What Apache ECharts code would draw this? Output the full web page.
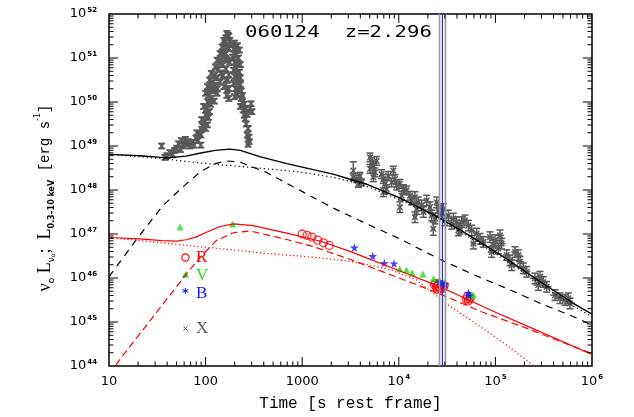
<!DOCTYPE html>
<html><head><meta charset="utf-8">
<script src="https://cdn.jsdelivr.net/npm/echarts@6/dist/echarts.min.js"></script>
<style>html,body{margin:0;padding:0;background:#fff}#c{width:634px;height:417px}</style>
</head><body><div id="c"></div>
<script>
// ---- data (log10 values) ----
const xrayPrompt = [ // [log10 t, log10 L]
[1.545,49.00],[1.58,48.74],[1.60,48.78],[1.63,48.85],[1.66,48.80],[1.68,48.90],[1.70,48.95],[1.72,49.05],[1.74,48.92],[1.75,49.12],[1.77,49.00],[1.79,49.15],[1.80,49.05],[1.82,49.10],[1.84,49.00],[1.86,49.08],[1.88,49.02],[1.90,49.18],[1.92,49.12],[1.94,49.28],[1.95,49.02],[1.96,49.38],
[1.91,49.30],[1.95,49.25],[1.96,49.60],[1.99,49.55],[2.02,49.48],[1.98,49.90],[2.01,49.85],[2.04,49.78],[2.00,50.20],[2.03,50.15],[2.06,50.08],[2.09,50.02],[2.04,50.50],[2.07,50.44],[2.10,50.38],[2.12,50.30],[2.10,50.80],[2.13,50.74],[2.16,50.66],[2.15,51.10],[2.18,51.04],[2.21,50.98],[2.19,51.40],[2.21,51.46],[2.23,51.52],[2.25,51.40],[2.22,51.56],[2.24,51.50],
[1.97,49.45],[2.00,49.40],[2.00,49.70],[2.03,49.65],[2.02,50.00],[2.05,49.95],[2.02,50.35],[2.05,50.30],[2.08,50.25],[2.06,50.65],[2.09,50.60],[2.12,50.55],[2.12,50.95],[2.15,50.90],[2.18,50.85],[2.17,51.25],[2.20,51.35],[2.19,51.10],[2.21,51.10],
[2.20,51.20],[2.22,51.25],[2.24,51.22],[2.23,50.95],[2.25,50.90],[2.24,50.62],[2.23,50.50],[2.24,50.30],[2.24,50.08],[2.18,50.60],[2.21,50.50],[2.15,50.45],[2.12,50.20],[2.08,50.30],[2.23,50.30],[2.21,50.75],[2.19,50.35],[2.22,50.15],
[2.27,51.30],[2.30,51.34],[2.33,51.28],[2.35,51.18],[2.28,51.02],[2.31,51.06],[2.34,51.00],[2.29,50.72],[2.32,50.76],[2.35,50.68],[2.29,50.42],[2.32,50.46],[2.36,50.40],[2.30,50.12],[2.33,50.16],[2.37,50.08],[2.36,49.90],[2.39,49.82],[2.41,49.62],[2.43,49.72],[2.44,49.40],[2.45,49.20],[2.44,49.04],[2.46,49.86],[2.47,49.96],[2.48,49.78],[2.38,50.00],[2.40,49.95],
[2.29,51.20],[2.32,51.18],[2.30,50.90],[2.33,50.88],[2.36,50.85],[2.30,50.58],[2.33,50.60],[2.36,50.55],[2.31,50.30],[2.34,50.28],[2.37,50.25],[2.38,50.15],[2.40,49.70],[2.42,49.85],[2.42,49.50],[2.43,49.25],[2.45,49.10]
];
const xrayAfter = [ // [log10 t, log10 L, dlogL, dlogt]
[3.529,48.44,0.20,0],[3.529,48.29,0.08,0.02],[3.564,48.25,0.08,0.02],[3.598,48.32,0.08,0.02],[3.615,48.17,0.08,0.02],[3.581,48.14,0.08,0.02],
[3.702,48.74,0.10,0.01],[3.719,48.63,0.10,0.01],[3.736,48.55,0.10,0.01],[3.702,48.48,0.10,0.01],[3.753,48.40,0.10,0.01],[3.736,48.29,0.10,0.01],[3.771,48.66,0.10,0.01],
[3.822,48.36,0.10,0.01],[3.84,48.25,0.10,0.01],[3.857,48.14,0.10,0.01],[3.874,48.02,0.10,0.01],[3.84,47.95,0.10,0.01],[3.891,48.32,0.10,0.01],
[3.943,48.44,0.10,0.01],[3.96,48.25,0.10,0.01],[3.978,48.10,0.10,0.01],[3.926,48.17,0.10,0.01],
[4.012,48.14,0.10,0.01],[4.047,48.02,0.10,0.01],[4.029,47.87,0.10,0.01],[4.081,47.99,0.10,0.01],[4.012,47.61,0.12,0.01],[4.116,47.87,0.10,0.01],[4.133,47.76,0.10,0.01],
[4.167,47.84,0.12,0.02],[4.202,47.72,0.12,0.02],[4.185,47.57,0.12,0.02],[4.236,47.65,0.12,0.02],[4.254,47.50,0.12,0.02],[4.288,47.76,0.12,0.02],[4.167,47.38,0.12,0.02],
[4.323,47.61,0.12,0.02],[4.34,47.42,0.12,0.02],[4.357,47.12,0.15,0.02],[4.375,47.35,0.12,0.02],[4.392,47.72,0.12,0.02],[4.409,47.53,0.12,0.02],
[4.444,47.46,0.12,0.02],[4.478,47.31,0.12,0.02],[4.513,47.42,0.12,0.02],[4.547,47.23,0.12,0.02],[4.599,47.27,0.12,0.02],[4.616,47.08,0.12,0.02],
[4.461,47.57,0.12,0.02],[4.565,47.35,0.12,0.03],[4.651,47.27,0.12,0.03],[4.685,47.31,0.12,0.03],[4.72,47.19,0.12,0.03],[4.633,47.12,0.12,0.03],[4.754,47.08,0.12,0.03],[4.806,47.01,0.12,0.03],[4.841,46.89,0.12,0.03],[4.772,46.78,0.12,0.03],[4.875,46.82,0.12,0.03],
[4.944,46.93,0.12,0.04],[4.996,46.86,0.12,0.04],[5.048,46.97,0.12,0.04],[4.979,46.74,0.12,0.04],[5.03,46.67,0.12,0.04],[4.961,46.59,0.12,0.04],[5.065,46.78,0.12,0.04],
[5.117,46.52,0.12,0.04],[5.151,46.40,0.12,0.04],[5.203,46.59,0.12,0.04],[5.237,46.52,0.12,0.04],[5.255,46.37,0.12,0.04],[5.168,46.29,0.12,0.04],[5.289,46.22,0.12,0.04],[5.324,46.14,0.12,0.04],
[5.41,45.99,0.12,0.05],[5.462,46.03,0.12,0.05],[5.496,45.91,0.12,0.05],[5.531,45.80,0.12,0.05],[5.444,45.84,0.12,0.05],
[5.617,45.61,0.12,0.05],[5.669,45.54,0.12,0.05],[5.72,45.50,0.12,0.05],[5.772,45.42,0.12,0.05],[5.755,45.54,0.12,0.05]
];
const optR = [[3.0,47.0],[3.05,46.97],[3.10,46.93],[3.16,46.86],[3.22,46.8],[3.28,46.74],[4.38,45.88],[4.40,45.82],[4.42,45.78],[4.44,45.84],[4.46,45.80],[4.41,45.86],[4.43,45.75],[4.39,45.80],[4.45,45.76],[4.47,45.83],[4.40,45.74],[4.37,45.84],[4.70,45.52],[4.72,45.48],[4.74,45.55],[4.71,45.58],[4.73,45.52]];
const optV = [[1.735,47.16],[2.28,47.23],[4.01,46.21],[4.08,46.18],[4.14,46.12],[4.25,46.09],[4.36,45.99],[4.42,45.95],[4.47,45.9],[4.74,45.6],[4.77,45.62]];
const optB = [[3.54,46.69],[3.73,46.5],[3.85,46.34],[3.95,46.33],[4.42,45.92],[4.45,45.88],[4.48,45.86],[4.72,45.66],[4.73,45.6]];

const blackSolid = [[1.0,48.81],[1.32,48.78],[1.6,48.73],[1.8,48.77],[1.95,48.84],[2.1,48.90],[2.25,48.93],[2.36,48.90],[2.56,48.76],[2.84,48.60],[3.0,48.52],[3.32,48.36],[3.67,48.13],[4.01,47.82],[4.36,47.44],[4.63,47.10],[4.77,46.91],[5.12,46.43],[5.46,45.92],[5.81,45.42],[6.0,45.18]];
const blackDotted = [[1.0,48.81],[1.3,48.76],[1.6,48.70],[1.8,48.65],[2.01,48.60],[2.22,48.56],[2.49,48.51],[2.84,48.44],[3.0,48.40],[3.32,48.29],[3.6,48.14],[4.0,47.79],[4.36,47.41],[4.63,47.06],[4.77,46.87],[5.12,46.39],[5.46,45.87],[5.81,45.36],[6.0,45.12]];
const blackDashed = [[1.0,46.03],[1.3,46.92],[1.56,47.65],[1.8,48.14],[1.95,48.42],[2.1,48.60],[2.22,48.66],[2.36,48.63],[2.63,48.40],[2.91,48.07],[3.32,47.59],[3.67,47.23],[4.01,46.89],[4.43,46.42],[4.77,46.08],[5.12,45.76],[5.46,45.43],[5.81,45.12],[6.0,44.93]];
const redSolid = [[1.0,46.92],[1.32,46.89],[1.55,46.85],[1.70,46.84],[1.80,46.87],[1.90,46.93],[2.01,47.04],[2.15,47.17],[2.29,47.23],[2.49,47.19],[2.84,47.02],[3.2,46.83],[3.5,46.60],[4.0,46.17],[4.45,45.78],[5.0,45.22],[5.39,44.85],[6.0,44.26]];
const redDashed = [[1.0,43.83],[1.06,44.0],[1.79,46.06],[1.94,46.46],[2.11,46.85],[2.29,47.03],[2.46,47.07],[2.85,46.87],[3.12,46.71],[3.5,46.42],[4.16,45.87],[4.53,45.54],[4.85,45.24],[5.32,44.86],[5.54,44.67],[6.0,44.28]];
const redDotted = [[1.0,46.92],[1.32,46.85],[2.0,46.70],[2.63,46.56],[3.18,46.46],[3.56,46.36],[3.91,46.19],[4.18,45.96],[4.49,45.42],[4.84,44.90],[5.1,44.50],[5.4,44.0],[5.6,43.65]];
const bandT = [26400, 28300, 30400];

// ---- helpers ----
const P = a => [Math.pow(10, a[0]), Math.pow(10, a[1])];
const lin = arr => arr.map(P);
const errData = [];
xrayPrompt.forEach(p => errData.push([p[0], p[1], 0.06, 0]));
xrayAfter.forEach(p => errData.push(p));
const errVals = errData.map(p => [Math.pow(10,p[0]), Math.pow(10,p[1]), Math.pow(10,p[1]-p[2]), Math.pow(10,p[1]+p[2]), Math.pow(10,p[0]-p[3]), Math.pow(10,p[0]+p[3])]);

const GRAY = '#585858', RED = '#ff0000', GREEN = '#1fe01f', BLUE = '#1515ff';
const STAR = 'path://M50,0 L61,35 L98,35 L68,57 L79,91 L50,70 L21,91 L32,57 L2,35 L39,35 Z';

function supLabel(v, plainBelow) {
  const e = Math.round(Math.log10(v));
  if (e <= plainBelow) return '{b|' + String(Math.pow(10, e)) + '}';
  return '{b|10}{s|' + e + '}';
}
const richLab = {
  b: {fontFamily: 'DejaVu Sans', fontSize: 13, color: '#000', lineHeight: 15},
  s: {fontFamily: 'DejaVu Sans', fontSize: 7, fontWeight: 'bold', color: '#000', verticalAlign: 'top', lineHeight: 7, padding: [0,0,0,1]}
};

function renderErr(params, api) {
  const t = api.value(0), L = api.value(1), lo = api.value(2), hi = api.value(3), tl = api.value(4), th = api.value(5);
  const c = api.coord([t, L]), a = api.coord([t, lo]), b = api.coord([t, hi]);
  const st = {stroke: GRAY, lineWidth: 1.5};
  const w = 3.5, m = 2.8;
  const ch = [
    {type:'line', shape:{x1:a[0],y1:a[1],x2:b[0],y2:b[1]}, style:st},
    {type:'line', shape:{x1:a[0]-w,y1:a[1],x2:a[0]+w,y2:a[1]}, style:st},
    {type:'line', shape:{x1:b[0]-w,y1:b[1],x2:b[0]+w,y2:b[1]}, style:st},
    {type:'line', shape:{x1:c[0]-m,y1:c[1]-m,x2:c[0]+m,y2:c[1]+m}, style:st},
    {type:'line', shape:{x1:c[0]-m,y1:c[1]+m,x2:c[0]+m,y2:c[1]-m}, style:st}
  ];
  if (th > tl * 1.0001) {
    const l = api.coord([tl, L]), r = api.coord([th, L]);
    ch.push({type:'line', shape:{x1:l[0],y1:l[1],x2:r[0],y2:r[1]}, style:st});
  }
  return {type:'group', children: ch};
}

function renderTicks(params, api) {
  const ch = [];
  const bl = api.coord([10, 1e44]), tr = api.coord([1e6, 1e52]);
  const left = bl[0], bottom = bl[1], right = tr[0], top = tr[1];
  const st = {stroke:'#000', lineWidth:1};
  for (let d = 1; d <= 5; d++) for (let k = 1; k <= 9; k++) {
    const v = k * Math.pow(10, d);
    if (v <= 10 || v >= 1e6) continue;
    const x = api.coord([v, 1e48])[0];
    const len = k === 1 ? 9 : 4.5;
    ch.push({type:'line', shape:{x1:x,y1:bottom,x2:x,y2:bottom-len}, style:st});
    ch.push({type:'line', shape:{x1:x,y1:top,x2:x,y2:top+len}, style:st});
  }
  for (let d = 44; d <= 51; d++) for (let k = 1; k <= 9; k++) {
    const v = k * Math.pow(10, d);
    if (v <= 1e44 || v >= 1e52) continue;
    const y = api.coord([100, v])[1];
    const len = k === 1 ? 9 : 4.5;
    ch.push({type:'line', shape:{x1:left,y1:y,x2:left+len,y2:y}, style:st});
    ch.push({type:'line', shape:{x1:right,y1:y,x2:right-len,y2:y}, style:st});
  }
  return {type:'group', children: ch};
}

function lineS(data, color, width, type) {
  return {type:'line', data: lin(data), showSymbol:false, smooth:false, silent:true,
    lineStyle:{color, width, type}, z: 5, animation:false};
}

const chart = echarts.init(document.getElementById('c'), null, {renderer:'canvas'});
chart.setOption({
  animation: false,
  backgroundColor: '#fff',
  grid: {left:109, right:42, top:14, bottom:49, show:true, borderColor:'#000', borderWidth:1.5, backgroundColor:'transparent'},
  xAxis: {type:'log', logBase:10, min:10, max:1e6, splitLine:{show:false}, axisTick:{show:false}, axisLine:{show:false},
    axisLabel:{margin:8, formatter: v => supLabel(v, 3), rich: richLab, showMinLabel:true, showMaxLabel:true},
    name:'Time [s rest frame]', nameLocation:'middle', nameGap:30,
    nameTextStyle:{fontFamily:'Liberation Mono', fontSize:16, color:'#000'}},
  yAxis: {type:'log', logBase:10, min:1e44, max:1e52, splitLine:{show:false}, axisTick:{show:false}, axisLine:{show:false},
    axisLabel:{margin:12, formatter: v => supLabel(v, 0), rich: richLab, showMinLabel:true, showMaxLabel:true}},
  graphic: [
    {type:'text', x:245, y:33, scaleX:1.38, style:{text:'060124  z=2.296', font:'15px "DejaVu Sans Mono"', fill:'#000', verticalAlign:'middle', textVerticalAlign:'middle'}},
    {type:'text', x:45, y:198, rotation:Math.PI/2, style:{
      text:'{g|ν}{s|o}{g| L}{s|ν}{ss|o}{g|;  L}{sb|0.3–10 keV}{m| [erg s}{sup|-1}{m|]}',
      align:'center', verticalAlign:'middle', textAlign:'center', textVerticalAlign:'middle',
      rich:{
        g:{fontFamily:'Liberation Serif', fontSize:18, fill:'#000', color:'#000', lineHeight:22, verticalAlign:'middle'},
        s:{fontFamily:'DejaVu Sans', fontSize:9, fill:'#000', color:'#000', lineHeight:9, verticalAlign:'bottom'},
        ss:{fontFamily:'DejaVu Sans', fontSize:6, fill:'#000', color:'#000', lineHeight:6, verticalAlign:'bottom'},
        sb:{fontFamily:'DejaVu Sans', fontSize:8, fontWeight:'bold', fill:'#000', color:'#000', lineHeight:8, verticalAlign:'bottom'},
        m:{fontFamily:'Liberation Mono', fontSize:14, fill:'#000', color:'#000', lineHeight:22, verticalAlign:'middle'},
        sup:{fontFamily:'DejaVu Sans', fontSize:8, fill:'#000', color:'#000', lineHeight:8, verticalAlign:'top'}
      }}},
    {type:'circle', shape:{cx:185.5, cy:257.5, r:3.6}, style:{fill:'none', stroke:RED, lineWidth:1.2}},
    {type:'text', x:196, y:258, style:{text:'R', font:'17px "Liberation Serif"', fill:RED, verticalAlign:'middle', textVerticalAlign:'middle'}},
    {type:'polygon', shape:{points:[[185.5,271.5],[189,277.5],[182,277.5]]}, style:{fill:GREEN}},
    {type:'text', x:196, y:276, style:{text:'V', font:'17px "Liberation Serif"', fill:GREEN, verticalAlign:'middle', textVerticalAlign:'middle'}},
    {type:'text', x:185.5, y:294, style:{text:'*', font:'bold 13px "DejaVu Sans"', fill:BLUE, align:'center', textAlign:'center', verticalAlign:'middle', textVerticalAlign:'middle'}},
    {type:'text', x:196, y:293.5, style:{text:'B', font:'17px "Liberation Serif"', fill:BLUE, verticalAlign:'middle', textVerticalAlign:'middle'}},
    {type:'line', shape:{x1:183.5,y1:326.5,x2:187.5,y2:330.5}, style:{stroke:GRAY, lineWidth:1}},
    {type:'line', shape:{x1:183.5,y1:330.5,x2:187.5,y2:326.5}, style:{stroke:GRAY, lineWidth:1}},
    {type:'text', x:196, y:329, style:{text:'X', font:'17px "Liberation Serif"', fill:GRAY, verticalAlign:'middle', textVerticalAlign:'middle'}}
  ],
  series: [
    {type:'custom', renderItem: renderTicks, data:[[100,1e48]], silent:true, z:10, clip:false},
    {type:'custom', renderItem: renderErr, data: errVals, silent:true, z:2, clip:true},
    {type:'scatter', data: lin(optR), symbol:'circle', symbolSize:8, itemStyle:{color:'rgba(0,0,0,0)', borderColor:RED, borderWidth:1.3}, z:3, silent:true},
    {type:'scatter', data: lin(optV), symbol:'triangle', symbolSize:7, itemStyle:{color:GREEN}, z:3, silent:true},
    {type:'scatter', data: lin(optB), symbol:STAR, symbolSize:9, itemStyle:{color:BLUE}, z:3, silent:true},
    lineS(blackSolid, '#000', 1.4, 'solid'),
    lineS(blackDotted, '#000', 1.2, [1.2, 3]),
    lineS(blackDashed, '#000', 1.2, [7, 6]),
    lineS(redSolid, RED, 1.2, 'solid'),
    lineS(redDashed, RED, 1.2, [7, 4]),
    lineS(redDotted, RED, 1.2, [1.2, 2.5]),
    {type:'line', data:[[bandT[0],1e44],[bandT[0],1e52]], showSymbol:false, lineStyle:{color:'#9a9a9a', width:1.6}, z:6, silent:true},
    {type:'line', data:[[bandT[2],1e44],[bandT[2],1e52]], showSymbol:false, lineStyle:{color:'#9a9a9a', width:1.6}, z:6, silent:true},
    {type:'line', data:[[bandT[1],1e44],[bandT[1],1e52]], showSymbol:false, lineStyle:{color:'#2a2aff', width:1.2}, z:6, silent:true}
  ]
});
</script></body></html>
